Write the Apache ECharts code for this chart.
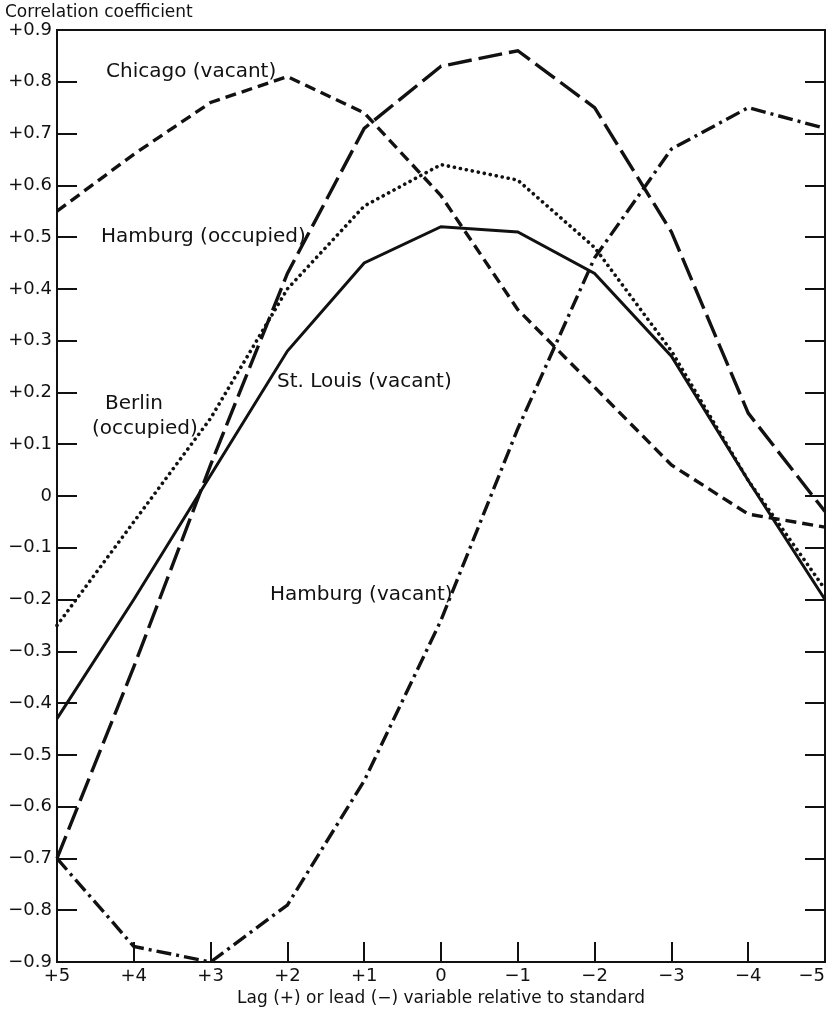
<!DOCTYPE html>
<html>
<head>
<meta charset="utf-8">
<script src="https://cdn.jsdelivr.net/npm/echarts@6/dist/echarts.min.js"></script>
<style>
  html, body { margin: 0; padding: 0; background: #fff; }
  #chart { width: 833px; height: 1009px; }
</style>
</head>
<body>
<div id="chart"></div>
<script>
// Lag categories, from lag +5 down to lead -5
const lags = ['+5', '+4', '+3', '+2', '+1', '0', '\u22121', '\u22122', '\u22123', '\u22124', '\u22125'];

// Correlation coefficients for each city series
const chicagoVacant   = [0.55, 0.66, 0.76, 0.81, 0.74, 0.58, 0.36, 0.21, 0.06, -0.035, -0.06];
const hamburgOccupied = [-0.70, -0.33, 0.06, 0.43, 0.71, 0.83, 0.86, 0.75, 0.51, 0.16, -0.03];
const berlinOccupied  = [-0.25, -0.05, 0.15, 0.40, 0.56, 0.64, 0.61, 0.48, 0.28, 0.03, -0.18];
const stLouisVacant   = [-0.43, -0.20, 0.04, 0.28, 0.45, 0.52, 0.51, 0.43, 0.27, 0.03, -0.20];
const hamburgVacant   = [-0.70, -0.87, -0.90, -0.79, -0.55, -0.24, 0.13, 0.46, 0.67, 0.75, 0.71];

const FONT = 'DejaVu Sans';
const INK = '#111';

function yLabel(v) {
  const r = Math.round(v * 10) / 10;
  if (r === 0) return '0';
  return (r > 0 ? '+' : '\u2212') + Math.abs(r).toFixed(1);
}

function lineSeries(name, data, type, width, cap) {
  return {
    name: name,
    type: 'line',
    data: data,
    symbol: 'none',
    silent: true,
    lineStyle: { color: INK, width: width, type: type, cap: cap || 'butt', join: 'miter' },
    z: 3
  };
}

// Curve annotations placed beside their lines
function note(text, x, y) {
  return {
    type: 'text', x: x, y: y, z: 10,
    style: { text: text, fill: INK, font: '20px "' + FONT + '"', verticalAlign: 'middle', align: 'left' }
  };
}

const chart = echarts.init(document.getElementById('chart'), null, { renderer: 'canvas' });

chart.setOption({
  animation: false,
  backgroundColor: '#fff',
  grid: {
    left: 57, right: 8, top: 30, bottom: 47,
    outerBoundsMode: 'none',
    containLabel: false,
    show: true, borderColor: INK, borderWidth: 2
  },
  xAxis: {
    type: 'category',
    data: lags,
    boundaryGap: false,
    axisLine: { onZero: false, lineStyle: { color: INK, width: 2 } },
    axisTick: { inside: true, length: 20, alignWithLabel: true, lineStyle: { color: INK, width: 2 } },
    axisLabel: { color: INK, fontFamily: FONT, fontSize: 18, margin: 5, alignMaxLabel: 'right' },
    splitLine: { show: false },
    name: 'Lag (+) or lead (\u2212) variable relative to standard',
    nameLocation: 'middle',
    nameGap: 27,
    nameTextStyle: { color: INK, fontFamily: FONT, fontSize: 17 }
  },
  yAxis: [
    {
      type: 'value',
      min: -0.9, max: 0.9, interval: 0.1,
      axisLine: { show: true, onZero: false, lineStyle: { color: INK, width: 2 } },
      axisTick: { show: true, inside: true, length: 20, lineStyle: { color: INK, width: 2 } },
      axisLabel: { color: INK, fontFamily: FONT, fontSize: 18, margin: 5, formatter: yLabel },
      splitLine: { show: false }
    },
    {
      type: 'value',
      position: 'right',
      min: -0.9, max: 0.9, interval: 0.1,
      axisLine: { show: true, onZero: false, lineStyle: { color: INK, width: 2 } },
      axisTick: { show: true, inside: true, length: 20, lineStyle: { color: INK, width: 2 } },
      axisLabel: { show: false },
      splitLine: { show: false }
    }
  ],
  series: [
    lineSeries('Chicago (vacant)', chicagoVacant, [11, 6], 3.4),
    lineSeries('Hamburg (occupied)', hamburgOccupied, [24, 7], 3.4),
    lineSeries('Berlin (occupied)', berlinOccupied, [0.1, 6], 3.6, 'round'),
    lineSeries('St. Louis (vacant)', stLouisVacant, 'solid', 3),
    lineSeries('Hamburg (vacant)', hamburgVacant, [15, 5, 3, 5], 3.4)
  ],
  graphic: [
    {
      type: 'text', x: 5, y: 13,
      style: { text: 'Correlation coefficient', fill: INK, font: '17px "' + FONT + '"', verticalAlign: 'middle' }
    },
    note('Chicago (vacant)', 106, 72),
    note('Hamburg (occupied)', 101, 237),
    note('Berlin', 105, 404),
    note('(occupied)', 92, 429),
    note('St. Louis (vacant)', 277, 382),
    note('Hamburg (vacant)', 270, 595)
  ]
});
</script>
</body>
</html>
